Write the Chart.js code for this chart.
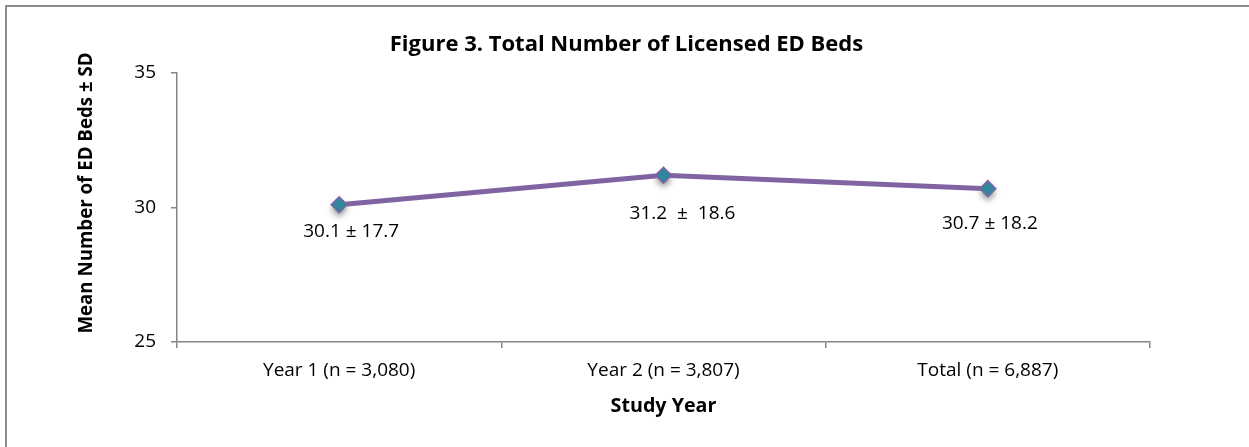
<!DOCTYPE html>
<html>
<head>
<meta charset="utf-8">
<script src="https://cdn.jsdelivr.net/npm/chart.js@4.4.0/dist/chart.umd.min.js"></script>
<style>
  html, body { margin: 0; padding: 0; background: #fff; overflow: hidden; }
  #wrap { position: relative; width: 1249px; height: 447px; }
  #frame { position: absolute; left: 5px; top: 5px; width: 1400px; height: 600px;
           border: 2px solid #8c8c8c; box-sizing: border-box; }
  canvas { position: absolute; left: 0; top: 0; }
</style>
</head>
<body>
<div id="wrap">
  <div id="frame"></div>
  <canvas id="bedChart" width="1249" height="447"></canvas>
</div>
<script>
// study periods and mean ED bed counts
const studyYears = ['Year 1 (n = 3,080)', 'Year 2 (n = 3,807)', 'Total (n = 6,887)'];
const meanBeds = [30.1, 31.2, 30.7];
const sdBeds = [17.7, 18.6, 18.2];
const yTicks = [25, 30, 35];

const FONT = '"Open Sans", sans-serif';
const AXIS_GRAY = '#868686';

// chart heading and the rotated y title, placed by hand
const headings = {
  id: 'headings',
  afterDraw(chart) {
    const { ctx } = chart;
    ctx.save();
    ctx.fillStyle = '#000';
    ctx.textAlign = 'center';
    ctx.textBaseline = 'middle';
    ctx.font = 'bold 22px ' + FONT;
    ctx.fillText('Figure 3. Total Number of Licensed ED Beds', chart.width / 2 + 2, 45);
    ctx.translate(87, 193);
    ctx.rotate(-Math.PI / 2);
    ctx.font = 'bold 18.7px ' + FONT;
    ctx.fillText('Mean Number of ED Beds \u00b1 SD', 0, 0);
    ctx.restore();
  }
};

// soft drop shadow under each marker
const markerShadow = {
  id: 'markerShadow',
  beforeDatasetsDraw(chart) {
    const { ctx } = chart;
    const meta = chart.getDatasetMeta(0);
    ctx.save();
    ctx.shadowColor = 'rgba(0,0,0,0.45)';
    ctx.shadowBlur = 6;
    ctx.shadowOffsetY = 4;
    ctx.fillStyle = '#fff';
    meta.data.forEach(pt => {
      ctx.beginPath();
      ctx.moveTo(pt.x, pt.y - 8);
      ctx.lineTo(pt.x + 8, pt.y);
      ctx.lineTo(pt.x, pt.y + 8);
      ctx.lineTo(pt.x - 8, pt.y);
      ctx.closePath();
      ctx.fill();
    });
    ctx.restore();
  }
};

// value labels under each marker ("mean ± SD")
const pointLabels = {
  id: 'pointLabels',
  afterDatasetsDraw(chart) {
    const { ctx } = chart;
    const meta = chart.getDatasetMeta(0);
    const shift = [[12, 27], [19, 38], [2, 35]];
    ctx.save();
    ctx.font = '19px ' + FONT;
    ctx.fillStyle = '#000';
    ctx.textAlign = 'center';
    ctx.textBaseline = 'middle';
    meta.data.forEach((pt, i) => {
      const sep = i === 1 ? '  \u00b1  ' : ' \u00b1 ';
      const txt = meanBeds[i].toFixed(1) + sep + sdBeds[i].toFixed(1);
      ctx.fillText(txt, pt.x + shift[i][0], pt.y + shift[i][1]);
    });
    ctx.restore();
  }
};

const ctx = document.getElementById('bedChart').getContext('2d');
const bedChart = new Chart(ctx, {
  type: 'line',
  data: {
    labels: studyYears,
    datasets: [{
      data: meanBeds,
      borderColor: '#8064A2',
      borderWidth: 5,
      pointStyle: 'rectRot',
      pointRadius: 8,
      pointBackgroundColor: '#31859C',
      pointBorderColor: '#8064A2',
      pointBorderWidth: 1.5,
      tension: 0
    }]
  },
  options: {
    responsive: false,
    animation: false,
    layout: { padding: { left: 70, right: 99, top: 73, bottom: 25 } },
    plugins: {
      legend: { display: false },
      tooltip: { enabled: false },
      title: { display: false }
    },
    scales: {
      x: {
        type: 'category',
        offset: true,
        grid: { offset: true, drawOnChartArea: false, color: AXIS_GRAY, tickLength: 6, lineWidth: 1.5 },
        border: { color: AXIS_GRAY, width: 1.5 },
        ticks: { color: '#000', font: { family: FONT, size: 19 }, padding: 11, maxRotation: 0 },
        title: {
          display: true, text: 'Study Year', color: '#000',
          font: { family: FONT, size: 19.7, weight: 'bold' },
          padding: { top: 0, bottom: 4 }
        },
        afterFit(scale) { scale.height = 80; }
      },
      y: {
        min: 25, max: 35,
        afterBuildTicks(scale) { scale.ticks = yTicks.map(v => ({ value: v })); },
        grid: { drawOnChartArea: false, color: AXIS_GRAY, tickLength: 6, lineWidth: 1.5 },
        border: { color: AXIS_GRAY, width: 1.5 },
        ticks: { color: '#000', font: { family: FONT, size: 19 }, padding: 15 },
        afterFit(scale) { scale.width = 107; }
      }
    }
  },
  plugins: [markerShadow, pointLabels, headings]
});
</script>
</body>
</html>
